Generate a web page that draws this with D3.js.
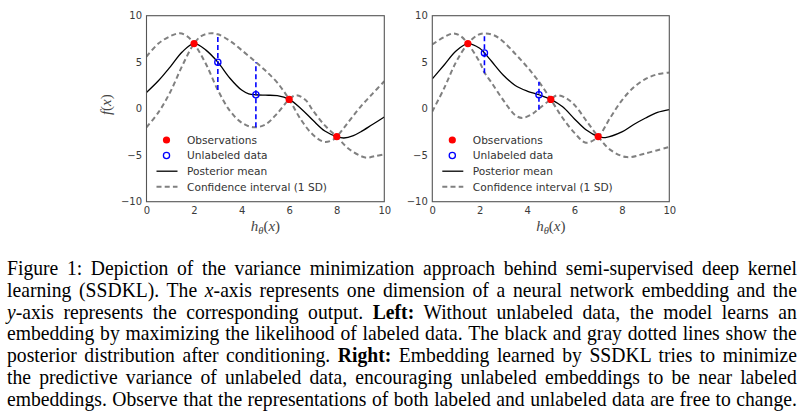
<!DOCTYPE html>
<html><head><meta charset="utf-8">
<script src="https://cdn.jsdelivr.net/npm/d3@7"></script>
<style>body{margin:0;background:#fff}svg{display:block}</style>
</head><body>
<svg id="c" width="803" height="413"></svg>
<script>
// ---------- data ----------
const xTicks = [0, 2, 4, 6, 8, 10];
const yTicks = [-10, -5, 0, 5, 10];
const legendLabels = ["Observations", "Unlabeled data", "Posterior mean", "Confidence interval (1 SD)"];

// Left panel (without unlabeled data)
const leftObs = [[2, 7], [6, 1], [8, -3]];
const leftUnlabeled = [[3, 5], [4.6, 1.5]];
const leftUnlabeledLo = [2.0, -2.0];
const leftUnlabeledHi = [8.0, 5.0];
const leftMean = [[0,1.75],[0.5,3.0],[1,4.5],[1.5,6.1],[2,7.0],[2.5,6.3],[3,5.0],[3.5,3.3],[4,2.0],[4.3,1.6],[4.6,1.5],[5,1.45],[5.5,1.4],[6,1.0],[6.5,0.0],[7,-1.25],[7.5,-2.4],[8,-3.0],[8.3,-3.15],[8.7,-2.9],[9,-2.5],[9.5,-1.7],[10,-0.9]];
const leftBandA = [[0,5.6],[0.5,7.0],[1,7.8],[1.4,8.1],[1.7,7.8],[2,7.0],[2.5,4.8],[3,2.0],[3.5,-0.2],[4,-1.5],[4.5,-2.0],[5,-1.7],[5.5,-0.5],[6,1.0],[6.3,1.45],[6.7,0.9],[7,-0.2],[7.5,-1.8],[8,-3.0],[8.5,-4.3],[9.2,-5.25],[9.6,-5.1],[10,-4.9]];
const leftBandB = [[0,-2.0],[0.5,-0.4],[1,1.8],[1.5,4.6],[2,7.0],[2.3,7.8],[2.65,8.1],[3,8.0],[3.5,7.3],[4,6.3],[4.6,5.0],[5,4.1],[5.5,2.8],[6,1.0],[6.5,-1.2],[7,-2.8],[7.45,-3.55],[7.8,-3.4],[8,-3.0],[8.5,-1.4],[9,0.2],[9.5,1.6],[10,2.95]];

// Right panel (SSDKL)
const rightObs = [[1.5, 7], [5, 1], [7, -3]];
const rightUnlabeled = [[2.2, 6], [4.5, 1.5]];
const rightUnlabeledLo = [3.8, -0.1];
const rightUnlabeledHi = [8.0, 2.9];
const rightMean = [[0,3.2],[0.5,4.7],[1,6.2],[1.5,7.0],[2,6.5],[2.2,6.0],[2.5,5.1],[3,3.6],[3.5,2.5],[4,1.9],[4.5,1.5],[5,1.0],[5.5,0.2],[6,-1.1],[6.5,-2.3],[7,-3.0],[7.3,-3.1],[8,-2.5],[8.5,-1.7],[9,-1.0],[9.5,-0.4],[10,-0.1]];
const rightBandA = [[0,6.9],[0.5,7.7],[0.9,8.1],[1.2,7.8],[1.5,7.0],[2,5.0],[2.2,3.9],[2.5,2.8],[3,0.9],[3.5,-0.7],[3.8,-1.0],[4.2,-0.6],[4.5,0.0],[5,1.0],[5.26,1.43],[5.6,1.2],[6,0.4],[6.5,-1.3],[7,-3.0],[7.5,-4.4],[8.2,-5.2],[9,-4.8],[10,-4.1]];
const rightBandB = [[0,-0.3],[0.5,2.2],[1,5.0],[1.5,7.0],[1.9,7.9],[2.2,8.1],[2.6,7.9],[3,7.2],[3.5,5.9],[4,4.5],[4.5,2.9],[5,1.0],[5.5,-1.0],[6,-2.6],[6.48,-3.65],[7,-3.0],[7.5,-1.0],[8,0.9],[8.5,2.3],[9,3.2],[9.5,3.7],[10,3.9]];

const captionLines = [
  [["Figure 1: Depiction of the variance minimization approach behind semi-supervised deep kernel", ""]],
  [["learning (SSDKL). The ", ""], ["x", "i"], ["-axis represents one dimension of a neural network embedding and the", ""]],
  [["y", "i"], ["-axis represents the corresponding output. ", ""], ["Left:", "b"], [" Without unlabeled data, the model learns an", ""]],
  [["embedding by maximizing the likelihood of labeled data. The black and gray dotted lines show the", ""]],
  [["posterior distribution after conditioning. ", ""], ["Right:", "b"], [" Embedding learned by SSDKL tries to minimize", ""]],
  [["the predictive variance of unlabeled data, encouraging unlabeled embeddings to be near labeled", ""]],
  [["embeddings. Observe that the representations of both labeled and unlabeled data are free to change.", ""]]
];

// ---------- drawing ----------
const svg = d3.select("#c");
const panels = [
  {x0: 146.5, x1: 384.3, obs: leftObs, unl: leftUnlabeled, lo: leftUnlabeledLo, hi: leftUnlabeledHi, mean: leftMean, a: leftBandA, b: leftBandB, ylab: true},
  {x0: 432.3, x1: 669.3, obs: rightObs, unl: rightUnlabeled, lo: rightUnlabeledLo, hi: rightUnlabeledHi, mean: rightMean, a: rightBandA, b: rightBandB, ylab: false}
];
const yTop = 15.7, yBot = 201.7;
const tickColor = "#3a3a3a";
const sansFont = "'DejaVu Sans', sans-serif";

panels.forEach((p, pi) => {
  const x = d3.scaleLinear().domain([0, 10]).range([p.x0, p.x1]);
  const y = d3.scaleLinear().domain([-10, 10]).range([yBot, yTop]);
  const g = svg.append("g");
  const clipId = "clip" + pi;
  svg.append("clipPath").attr("id", clipId).append("rect")
    .attr("x", p.x0).attr("y", yTop).attr("width", p.x1 - p.x0).attr("height", yBot - yTop);
  const line = d3.line().x(d => x(d[0])).y(d => y(d[1])).curve(d3.curveCatmullRom.alpha(0.5));
  const plot = g.append("g").attr("clip-path", `url(#${clipId})`);

  [p.a, p.b].forEach(arr => {
    plot.append("path").attr("d", line(arr)).attr("fill", "none")
      .attr("stroke", "#808080").attr("stroke-width", 2).attr("stroke-dasharray", "5,3.2");
  });
  plot.append("path").attr("d", line(p.mean)).attr("fill", "none")
    .attr("stroke", "#000").attr("stroke-width", 1.3);
  p.unl.forEach((d, i) => {
    plot.append("line").attr("x1", x(d[0])).attr("x2", x(d[0]))
      .attr("y1", y(p.lo[i])).attr("y2", y(p.hi[i]))
      .attr("stroke", "#0000ff").attr("stroke-width", 1.6).attr("stroke-dasharray", "5,3");
  });
  plot.selectAll("circle.obs").data(p.obs).enter().append("circle")
    .attr("cx", d => x(d[0])).attr("cy", d => y(d[1])).attr("r", 3.6).attr("fill", "#ff0000");
  plot.selectAll("circle.unl").data(p.unl).enter().append("circle")
    .attr("cx", d => x(d[0])).attr("cy", d => y(d[1])).attr("r", 3.1)
    .attr("fill", "none").attr("stroke", "#0000ff").attr("stroke-width", 1.3);

  g.append("rect").attr("x", p.x0).attr("y", yTop).attr("width", p.x1 - p.x0).attr("height", yBot - yTop)
    .attr("fill", "none").attr("stroke", "#555").attr("stroke-width", 1.1);

  const xa = g.append("g").attr("transform", `translate(0,${yBot})`)
    .call(d3.axisBottom(x).tickValues(xTicks).tickSize(0).tickPadding(5).tickFormat(d3.format("d")));
  const ya = g.append("g").attr("transform", `translate(${p.x0},0)`)
    .call(d3.axisLeft(y).tickValues(yTicks).tickSize(0).tickPadding(4.5).tickFormat(d => d < 0 ? "\u2212" + Math.abs(d) : String(d)));
  [xa, ya].forEach(a => {
    a.select(".domain").remove();
    a.selectAll("text").attr("font-family", sansFont).attr("font-size", "10px").attr("fill", tickColor);
  });

  const xl = g.append("text").attr("x", (p.x0 + p.x1) / 2).attr("y", 230.5).attr("text-anchor", "middle")
    .attr("font-family", "'Liberation Serif', serif").attr("font-size", "15px").attr("fill", "#444");
  xl.append("tspan").attr("font-style", "italic").text("h");
  xl.append("tspan").attr("font-style", "italic").attr("font-size", "10.5px").attr("dy", 3).text("\u03b8");
  xl.append("tspan").attr("dy", -3).text("(");
  xl.append("tspan").attr("font-style", "italic").text("x");
  xl.append("tspan").text(")");

  if (p.ylab) {
    const yl = g.append("text").attr("transform", `translate(110.5,${(yTop + yBot) / 2 - 4}) rotate(-90)`)
      .attr("text-anchor", "middle").attr("font-family", "'Liberation Serif', serif")
      .attr("font-size", "15px").attr("fill", "#444");
    yl.append("tspan").attr("font-style", "italic").text("f");
    yl.append("tspan").text("(");
    yl.append("tspan").attr("font-style", "italic").text("x");
    yl.append("tspan").text(")");
  }

  const lg = g.append("g");
  const rowY = [140, 155.5, 171.2, 186.7];
  const mx = p.x0 + 20;
  lg.append("circle").attr("cx", mx).attr("cy", rowY[0]).attr("r", 3.6).attr("fill", "#ff0000");
  lg.append("circle").attr("cx", mx).attr("cy", rowY[1]).attr("r", 3.1).attr("fill", "none")
    .attr("stroke", "#0000ff").attr("stroke-width", 1.3);
  lg.append("line").attr("x1", mx - 10).attr("x2", mx + 11).attr("y1", rowY[2]).attr("y2", rowY[2])
    .attr("stroke", "#000").attr("stroke-width", 1.3);
  lg.append("line").attr("x1", mx - 10).attr("x2", mx + 11).attr("y1", rowY[3]).attr("y2", rowY[3])
    .attr("stroke", "#808080").attr("stroke-width", 2).attr("stroke-dasharray", "5,3.2");
  legendLabels.forEach((t, i) => {
    lg.append("text").attr("x", p.x0 + 40.5).attr("y", rowY[i]).attr("dy", "0.36em")
      .attr("font-family", sansFont).attr("font-size", "10.6px").attr("fill", "#333").text(t);
  });
});

// ---------- caption ----------
const capLeft = 7, capWidth = 790, baseline0 = 275, pitch = 21.8;
const capFont = 21;
const capG = svg.append("g");
const capTexts = captionLines.map((segs, li) => {
  const t = capG.append("text").attr("font-family", "'Liberation Serif', 'Times New Roman', serif")
    .attr("font-size", capFont + "px").attr("fill", "#000").attr("xml:space", "preserve");
  segs.forEach(([s, st]) => {
    const ts = t.append("tspan").text(s);
    if (st === "i") ts.attr("font-style", "italic");
    if (st === "b") ts.attr("font-weight", "bold");
  });
  return t;
});
const nat = capTexts.map(t => t.node().getComputedTextLength());
const sx = 0.99 * capWidth / nat[6];
capTexts.forEach((t, li) => {
  const txt = captionLines[li].map(s => s[0]).join("");
  const nsp = (txt.match(/ /g) || []).length;
  const ws = (capWidth / sx - nat[li]) / nsp;
  t.attr("word-spacing", ws + "px")
   .attr("transform", `translate(${capLeft},${baseline0 + li * pitch}) scale(${sx},1)`);
});
</script>
</body></html>
